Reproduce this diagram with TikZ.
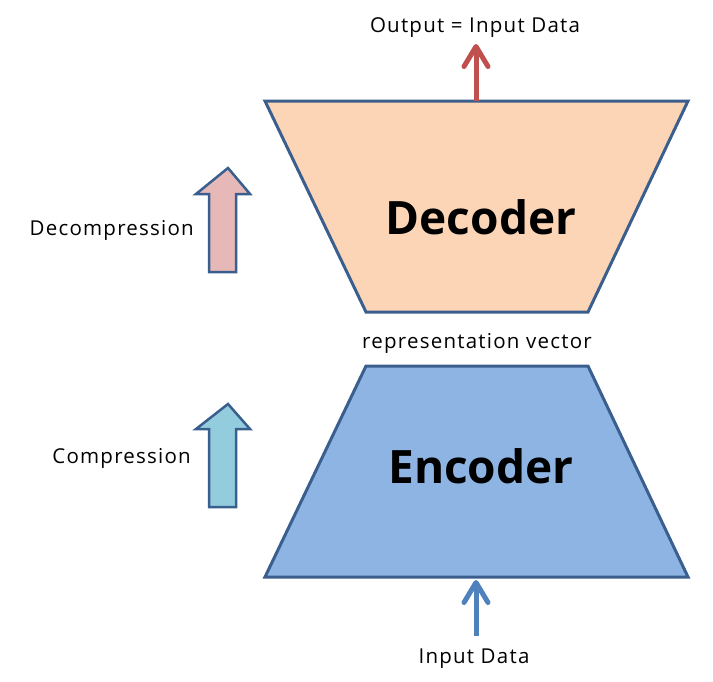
\documentclass[tikz,border=0pt]{standalone}
\usepackage{fontspec}
\setmainfont{Open Sans}
\usetikzlibrary{arrows.meta}
\definecolor{edge}{HTML}{3A5F8E}
\definecolor{decfill}{HTML}{FBD5B5}
\definecolor{encfill}{HTML}{8EB4E3}
\definecolor{pinkarr}{HTML}{E6B9B8}
\definecolor{cyanarr}{HTML}{93CDDD}
\definecolor{redarr}{HTML}{C0504D}
\definecolor{bluearr}{HTML}{4F81BD}
\tikzset{
  trap/.style={draw=edge, line width=3pt, line join=miter},
  blockarrow/.style={draw=edge, line width=2.5pt, line join=miter},
  lbl/.style={font=\fontsize{20.5}{24}\selectfont\addfontfeatures{LetterSpace=6}, inner sep=0pt},
  big/.style={font=\bfseries\fontsize{46}{52}\selectfont, inner sep=0pt},
  thinarrow/.style={line width=5pt, -{Straight Barb[length=20pt,width=24pt,line width=5pt,round]}}
}
\begin{document}
\begin{tikzpicture}[x=1pt,y=-1pt]
\useasboundingbox (0,0) rectangle (713,681);
% decoder
\draw[trap, fill=decfill] (265,101) -- (688,101) -- (588,312) -- (366,312) -- cycle;
\node[big] (dec) at (481,217) {Decoder};
% encoder
\draw[trap, fill=encfill] (366,366) -- (588,366) -- (688,577) -- (265,577) -- cycle;
\node[big] (enc) at (481,466) {Encoder};
\node[lbl] (rep) at (477,343) {representation vector};
% output arrow
\coordinate (otop) at (476,101);
\coordinate (otip) at (476,44);
\draw[thinarrow, draw=redarr] (otop) -- (otip);
\node[lbl] (out) at (475,28) {Output = Input Data};
% input arrow
\coordinate (ibot) at (476,636);
\coordinate (itip) at (476,580);
\draw[thinarrow, draw=bluearr] (ibot) -- (itip);
\node[lbl] (in) at (474,659) {Input Data};
% decompression block arrow
\draw[blockarrow, fill=pinkarr] (228,168) -- (250,194) -- (236,194) -- (236,272) -- (209,272) -- (209,194) -- (196,194) -- cycle;
\node[lbl, anchor=east] (decomp) at (194,230) {Decompression};
% compression block arrow
\draw[blockarrow, fill=cyanarr] (228,404) -- (250,429) -- (236,429) -- (236,507) -- (209,507) -- (209,429) -- (196,429) -- cycle;
\node[lbl, anchor=east] (comp) at (191,458) {Compression};
\end{tikzpicture}
\end{document}
